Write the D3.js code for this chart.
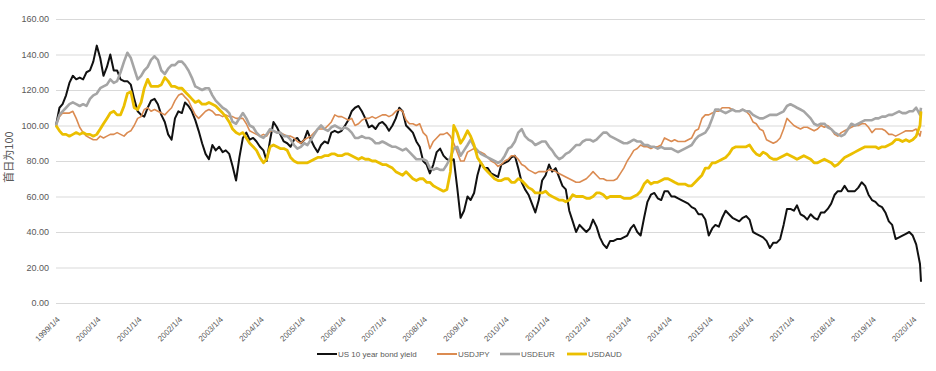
<!DOCTYPE html>
<html>
<head>
<meta charset="utf-8">
<script src="https://cdn.jsdelivr.net/npm/d3@7"></script>
<style>
  html, body { margin: 0; padding: 0; background: #fff; }
  svg { display: block; }
  text { font-family: "Liberation Sans", Arial, sans-serif; fill: #595959; }
</style>
</head>
<body>
<svg id="chart" width="936" height="371"></svg>
<script>
// ---------------- DATA (index, first day = 100) ----------------
const startDate = "1999-01-04";            // monthly observations from this date
const tailDates = ["2020-03-09", "2020-03-18"]; // final observations in March 2020
const yTicks = [0, 20, 40, 60, 80, 100, 120, 140, 160];
const xTickYears = d3.range(1999, 2021);   // labels "YYYY/1/4"
const seriesNames = ["US 10 year bond yield", "USDJPY", "USDEUR", "USDAUD"];
const seriesColors = ["#111111", "#DB8B51", "#A5A5A5", "#EBBF00"];
const seriesWidths = [2, 1.6, 2.6, 2.8];
const yTitle = "首日为100";

const us10y = [
  100,110,112,117,124,128,126,127,126,130,131,136,
  145,138,128,133,140,131,131,126,125,125,123,115,
  108,106,105,110,114,115,112,106,102,95,92,104,
  108,107,113,111,108,103,97,90,84,81,89,86,
  88,85,86,84,77,69,82,93,96,92,93,91,
  88,86,80,92,102,99,95,91,90,88,92,93,
  90,92,97,92,88,85,89,91,90,96,97,96,
  97,100,103,108,110,111,108,104,99,100,98,101,
  102,100,97,100,104,110,108,100,98,96,91,88,
  80,78,73,78,85,87,83,81,80,81,65,48,
  52,60,58,62,72,79,76,76,73,72,71,78,
  79,80,82,83,76,68,64,61,56,51,58,69,
  72,78,74,76,71,66,64,52,46,40,44,42,
  40,42,47,43,37,33,31,35,35,36,36,37,
  38,42,44,40,38,48,57,61,62,59,58,63,
  63,60,60,59,58,57,56,54,53,50,50,47,
  38,42,44,43,48,52,50,48,47,46,48,49,
  47,40,39,38,37,35,31,34,34,36,44,53,
  53,52,55,50,49,47,50,48,47,51,51,53,
  56,61,63,63,66,63,63,63,65,68,66,61,
  58,57,55,54,51,46,44,36,37,38,39,40,
  38,33,22,12
];
const usdjpy = [
  100,105,107,107,107,108,104,99,96,94,93,92,
  92,94,93,94,95,95,96,95,94,96,97,100,
  104,105,109,110,108,109,108,107,106,108,110,114,
  117,118,116,114,110,106,104,106,108,109,108,106,
  106,105,106,105,105,104,104,104,101,97,96,95,
  94,95,94,97,97,96,96,95,94,94,93,91,
  90,92,93,94,96,98,98,98,100,102,106,105,
  105,104,103,104,100,101,103,104,104,105,104,105,
  106,106,105,106,108,109,108,103,101,101,100,101,
  96,94,87,91,93,95,95,96,94,90,85,80,
  80,85,86,87,85,85,84,82,80,79,77,78,
  80,81,83,83,81,78,77,75,74,73,74,74,
  74,75,75,74,73,72,71,70,69,68,68,69,
  70,72,74,72,70,70,69,69,69,70,73,76,
  80,83,86,87,89,88,88,87,88,88,89,93,
  92,91,92,91,91,91,92,93,97,98,104,106,
  106,107,108,108,110,110,110,109,108,108,109,108,
  106,102,101,98,97,92,91,90,91,93,98,104,
  102,100,99,98,99,99,98,97,98,100,99,100,
  98,95,94,96,97,98,99,100,100,101,101,99,
  96,98,98,98,97,95,95,94,95,96,97,97,
  97,98,94,97
];
const usdeur = [
  100,106,108,110,112,113,112,111,112,111,115,117,
  118,121,122,123,126,124,125,130,136,141,138,132,
  126,128,131,133,137,139,137,131,129,132,134,134,
  136,136,134,131,127,122,121,120,121,121,117,114,
  112,110,109,107,102,101,104,107,104,100,99,96,
  94,93,95,98,97,96,96,94,94,92,89,87,
  88,90,89,92,95,98,100,98,97,99,100,99,
  98,99,98,96,93,93,94,93,93,92,90,90,
  91,90,89,88,88,87,86,87,85,83,81,81,
  81,80,76,75,76,75,75,78,82,87,88,83,
  86,89,92,88,86,84,83,82,81,80,79,80,
  83,87,88,91,96,98,94,92,91,89,90,91,
  91,88,86,83,81,82,84,85,87,89,89,91,
  92,92,91,92,94,96,96,94,93,92,91,90,
  90,91,92,91,91,89,89,88,88,87,88,87,
  87,87,86,85,86,87,88,89,92,94,95,96,
  99,104,109,109,108,107,108,109,108,108,109,108,
  108,106,105,104,104,105,106,106,106,107,108,111,
  112,111,110,109,108,106,104,101,100,101,101,99,
  98,96,95,94,95,98,101,100,101,102,103,103,
  103,104,104,105,105,106,106,107,108,107,107,108,
  108,110,106,110
];
const usdaud = [
  100,97,95,95,94,95,96,95,96,95,95,94,
  95,98,101,104,107,108,106,106,111,118,119,110,
  109,113,121,126,122,122,122,123,127,125,122,122,
  121,121,119,117,115,113,114,112,112,113,112,111,
  109,107,105,102,98,96,95,96,93,90,88,86,
  82,79,81,88,89,88,87,87,86,82,80,79,
  79,79,79,80,81,82,82,83,83,84,84,83,
  83,84,84,83,82,81,82,81,81,80,80,79,
  78,78,77,76,74,73,72,74,72,70,69,70,
  70,68,68,66,65,64,63,64,74,100,96,90,
  93,97,94,89,82,79,76,74,72,70,69,69,
  70,70,68,68,70,69,67,65,64,62,62,62,
  63,61,60,59,58,58,57,58,61,60,60,60,
  59,59,60,62,62,61,59,60,60,60,60,59,
  59,59,60,61,63,67,69,67,68,68,69,70,
  70,69,68,67,67,67,66,66,68,70,72,76,
  76,79,79,80,81,82,84,87,88,88,88,88,
  89,86,84,83,85,84,82,81,81,82,83,84,
  83,82,81,82,83,82,81,79,79,80,81,80,
  79,77,78,80,82,83,84,85,86,87,88,88,
  88,88,87,88,88,89,90,92,92,91,92,91,
  92,94,100,108
];
const seriesValues = [us10y, usdjpy, usdeur, usdaud];

// ---------------- BUILD DATES ----------------
const parse = d3.timeParse("%Y-%m-%d");
const start = parse(startDate);
const nMonthly = us10y.length - tailDates.length;
const dates = d3.range(nMonthly).map(i => d3.timeMonth.offset(start, i))
  .concat(tailDates.map(parse));

// ---------------- SCALES ----------------
const svg = d3.select("#chart");
const plotLeft = 56, plotRight = 925, dataRight = 921;
const plotTop = 19, plotBottom = 303;

const x = d3.scaleTime().domain([dates[0], dates[dates.length - 1]]).range([plotLeft, dataRight]);
const y = d3.scaleLinear().domain([0, 160]).range([plotBottom, plotTop]);

// gridlines
svg.append("g").selectAll("line").data(yTicks).join("line")
  .attr("x1", plotLeft).attr("x2", plotRight)
  .attr("y1", d => y(d) + 0.5).attr("y2", d => y(d) + 0.5)
  .attr("stroke", "#D9D9D9").attr("stroke-width", 1);

// y axis labels
const yAxis = d3.axisLeft(y).tickValues(yTicks).tickFormat(d3.format(".2f")).tickSize(0).tickPadding(0);
const gy = svg.append("g").attr("transform", `translate(${plotLeft - 7},0)`).call(yAxis);
gy.select(".domain").remove();
gy.selectAll("text").attr("font-size", "9px").attr("fill", "#595959")
  .style("font-family", "'Liberation Sans', Arial, sans-serif");

// x axis labels
const tickDates = xTickYears.map(yr => new Date(yr, 0, 4));
const xAxis = d3.axisBottom(x).tickValues(tickDates).tickFormat(d3.timeFormat("%Y/%-m/%-d")).tickSize(0).tickPadding(0);
const gx = svg.append("g").attr("transform", `translate(0,${plotBottom})`).call(xAxis);
gx.select(".domain").remove();
gx.selectAll("text")
  .attr("font-size", "8px").attr("fill", "#595959")
  .style("font-family", "'Liberation Sans', Arial, sans-serif")
  .attr("text-anchor", "end")
  .attr("dy", null).attr("y", 0)
  .attr("transform", "translate(4,17) rotate(-45)");

// y title
svg.append("text")
  .attr("transform", `translate(13,157) rotate(-90)`)
  .attr("text-anchor", "middle")
  .attr("font-size", "11px")
  .style("font-family", "'Noto Sans CJK SC', 'Liberation Sans', sans-serif")
  .attr("fill", "#595959")
  .text(yTitle);

// lines
const line = d3.line().x((d, i) => x(dates[i])).y(d => y(d)).curve(d3.curveLinear);
svg.append("g").selectAll("path").data(seriesValues).join("path")
  .attr("d", d => line(d))
  .attr("fill", "none")
  .attr("stroke", (d, i) => seriesColors[i])
  .attr("stroke-width", (d, i) => seriesWidths[i])
  .attr("stroke-linejoin", "round");

// legend
const legendX = [317, 437, 500, 567];
const lg = svg.append("g").selectAll("g").data(seriesNames).join("g")
  .attr("transform", (d, i) => `translate(${legendX[i]},354)`);
lg.append("line").attr("x1", 0).attr("x2", 20).attr("y1", 0).attr("y2", 0)
  .attr("stroke", (d, i) => seriesColors[i]).attr("stroke-width", (d, i) => Math.max(2, seriesWidths[i]));
lg.append("text").attr("x", 21).attr("y", 3).attr("font-size", "8px").attr("fill", "#595959").text(d => d);
</script>
</body>
</html>
